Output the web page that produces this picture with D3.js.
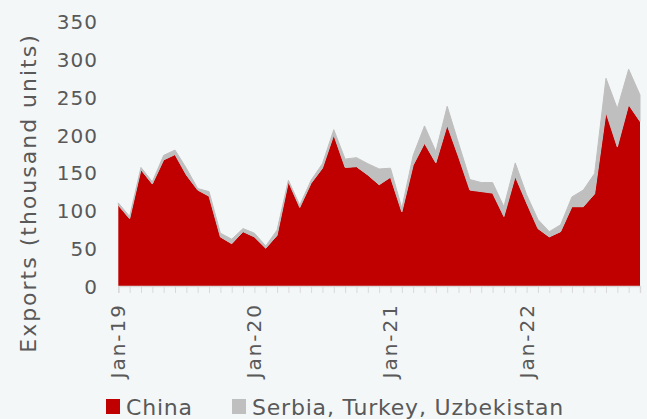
<!DOCTYPE html>
<html><head><meta charset="utf-8">
<script src="https://cdn.jsdelivr.net/npm/d3@7"></script>
<style>
html,body{margin:0;padding:0;background:#f4f7f8;}
svg{display:block;font-family:"DejaVu Sans",sans-serif;}
</style></head>
<body>
<script>
const months = d3.range(47).map(i => {
  const d = new Date(2019, i, 1);
  return d3.timeFormat("%b-%y")(d);
});
const china = [107,89,154,135,167,174,147,127,119,65,56,72,65,50,67,138,104,136,156,200,157,158,147,134,144,98,160,189,163,213,171,127,125,123,92,145,110,76,65,72,105,105,122,230,184,240,218];
const others = [3,3,3,3,6,6,9,2,6,5,6,4,5,3,7,2,3,4,6,7,11,12,15,21,12,5,13,23,15,25,18,14,12,14,13,18,11,12,7,9,13,22,27,45,51,47,35];
const seriesNames = ["China", "Serbia, Turkey, Uzbekistan"];
const colors = ["#c00000", "#bfbfbf"];
const yTicks = [0,50,100,150,200,250,300,350];
const xLabels = ["Jan-19","Jan-20","Jan-21","Jan-22"];

const W = 647, H = 419;
const svg = d3.select("body").append("svg").attr("width", W).attr("height", H);
svg.append("rect").attr("width", W).attr("height", H).attr("fill", "#f4f7f8");

const x = d3.scalePoint().domain(months).range([118.3, 640]);
const y = d3.scaleLinear().domain([0, 350]).range([286, 21.7]);

const table = months.map((m, i) => ({month: m, China: china[i], Others: others[i]}));
const stack = d3.stack().keys(["China", "Others"])(table);

const area = d3.area()
  .x(d => x(d.data.month))
  .y0(d => y(d[0]))
  .y1(d => y(d[1]));

svg.selectAll("path.area").data(stack).enter().append("path")
  .attr("class", "area")
  .attr("d", area)
  .attr("fill", (d, i) => colors[i])
  .attr("stroke", (d, i) => i === 1 ? colors[1] : "none")
  .attr("stroke-width", 1);

// x axis
const xAxis = d3.axisBottom(x).tickSize(7).tickFormat("");
const gx = svg.append("g").attr("transform", `translate(0,${y(0)})`).call(xAxis);
gx.select(".domain").attr("stroke", "#d9d9d9").attr("stroke-width", 1.5);
gx.selectAll(".tick line").attr("stroke", "#d9d9d9").attr("stroke-width", 1);

svg.append("g").selectAll("text").data(xLabels).enter().append("text")
  .attr("transform", d => `translate(${x(d) + 7},303) rotate(-90)`)
  .attr("text-anchor", "end")
  .attr("font-size", 20)
  .attr("letter-spacing", 2)
  .attr("fill", "#595959")
  .text(d => d);

// y axis labels
const yAxis = d3.axisLeft(y).tickValues(yTicks).tickSize(0).tickPadding(0);
const gy = svg.append("g").attr("transform", "translate(98,0)").call(yAxis);
gy.select(".domain").remove();
gy.selectAll("text").attr("font-size", 20).attr("letter-spacing", 1)
  .attr("font-family", "DejaVu Sans").attr("fill", "#595959").attr("dy", "0.36em");

// y title
svg.append("text")
  .attr("transform", "translate(36,193) rotate(-90)")
  .attr("text-anchor", "middle")
  .attr("font-size", 22)
  .attr("letter-spacing", 2)
  .attr("fill", "#595959")
  .text("Exports (thousand units)");

// legend
const legX = [106, 232];
const leg = svg.append("g").selectAll("g").data(seriesNames).enter().append("g")
  .attr("transform", (d, i) => `translate(${legX[i]},399)`);
leg.append("rect").attr("width", 14).attr("height", 15).attr("y", 0).attr("fill", (d, i) => colors[i]);
leg.append("text").attr("x", 20).attr("y", 16)
  .attr("font-size", 22).attr("letter-spacing", 0.8)
  .attr("fill", "#595959").text(d => d);
</script>
</body></html>
